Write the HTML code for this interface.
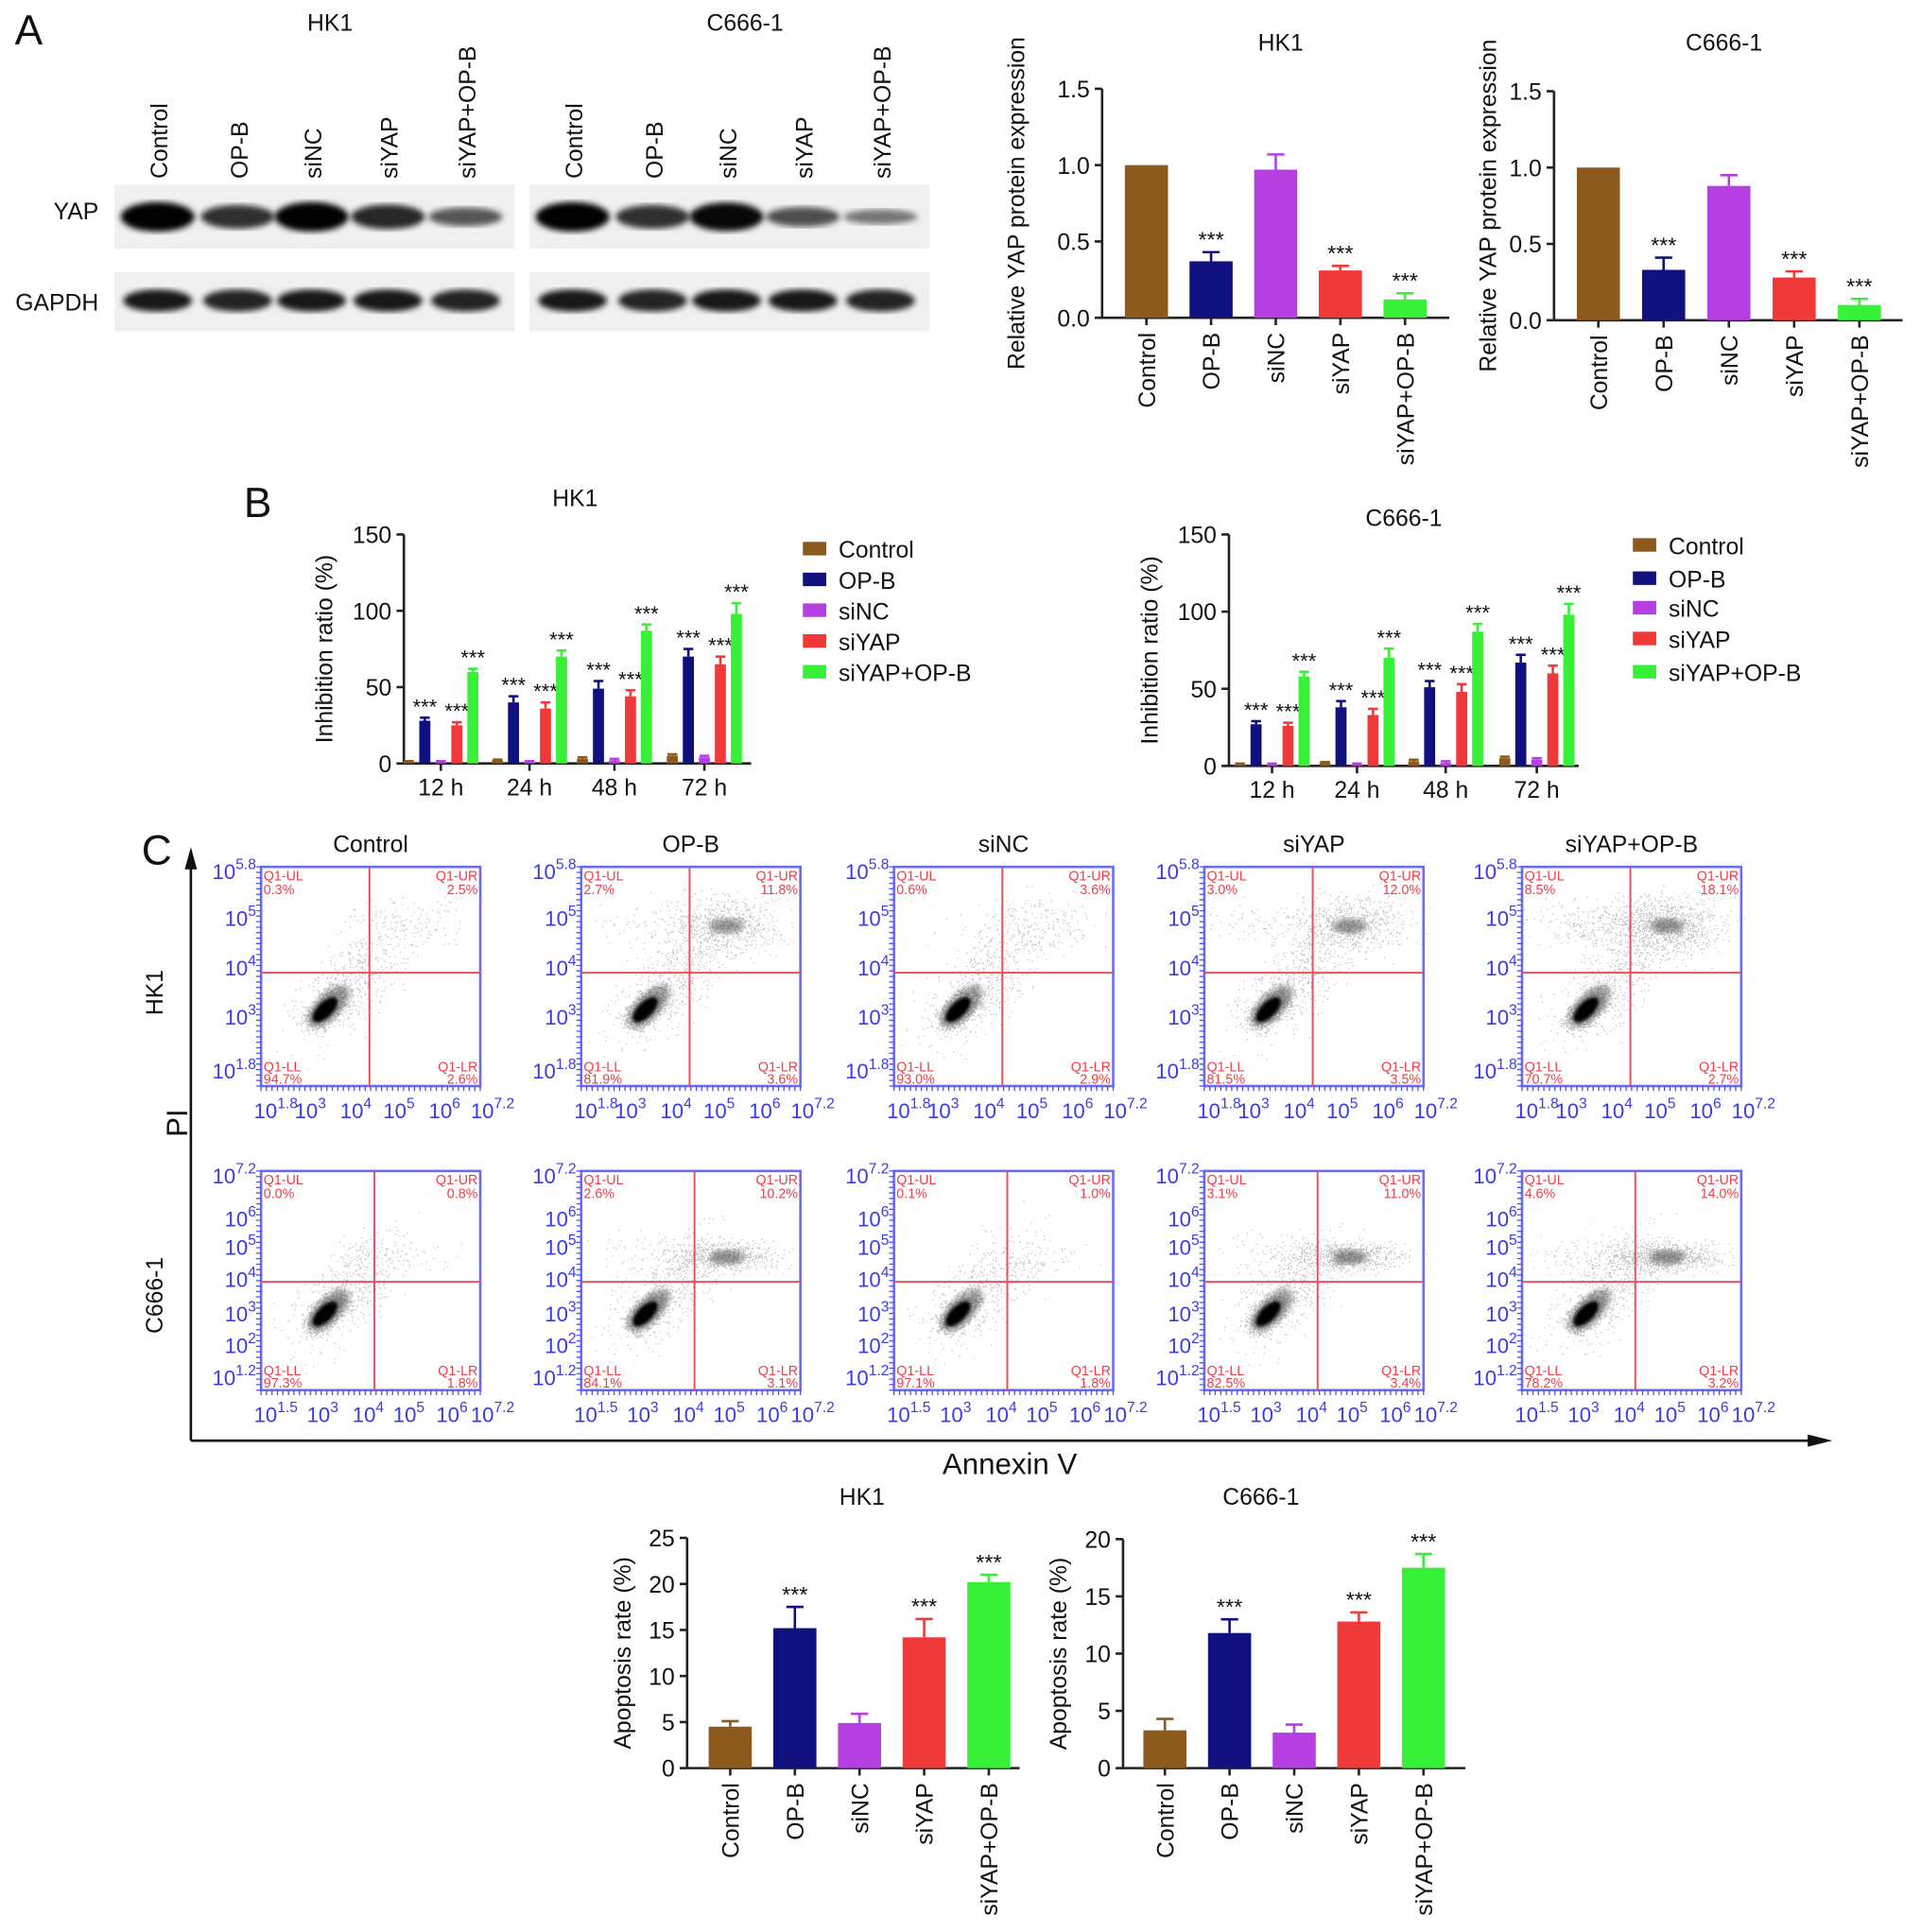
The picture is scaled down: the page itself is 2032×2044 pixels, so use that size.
<!DOCTYPE html>
<html><head><meta charset="utf-8">
<style>
html,body{margin:0;padding:0;background:#fff;}
svg{display:block;font-family:"Liberation Sans",Arial,sans-serif;}
</style></head>
<body>
<svg id="fig" xmlns="http://www.w3.org/2000/svg" width="2032" height="2044" viewBox="0 0 1560 1569">
<rect width="1560" height="1569" fill="#fff"/>
<defs>
<filter id="blur2"><feGaussianBlur stdDeviation="2.5"/></filter>
<filter id="blur1"><feGaussianBlur stdDeviation="1.2"/></filter>
</defs>
</svg>
<script>
// ---------- data ----------
const groups = ["Control","OP-B","siNC","siYAP","siYAP+OP-B"];
const colors = ["#8c5a1c","#10107e","#b53fe0","#f03a3a","#38f038"];
const yapHK1 = [1.0,0.37,0.97,0.31,0.12];
const yapHK1Err = [0,0.06,0.10,0.03,0.04];
const yapC666 = [1.0,0.33,0.88,0.28,0.10];
const yapC666Err = [0,0.08,0.07,0.04,0.04];
const yapTicks = [0,0.5,1.0,1.5];
const yapTickLabels = ["0.0","0.5","1.0","1.5"];
const timepoints = ["12 h","24 h","48 h","72 h"];
const inhHK1 = [[1,2,3,5],[28,40,49,70],[1,1,2,4],[25,36,44,65],[60,70,87,98]];
const inhHK1Err = [[0.5,0.5,1,1],[2,4,5,5],[0.5,0.5,1,1],[2,4,4,5],[2,4,4,7]];
const inhC666 = [[1,2,3,5],[27,38,51,67],[1,1,2,4],[26,33,48,60],[58,70,87,98]];
const inhC666Err = [[0.5,0.5,1,1],[2,4,4,5],[0.5,0.5,1,1],[2,4,5,5],[3,6,5,7]];
const inhTicks = [0,50,100,150];
const apoHK1 = [4.5,15.2,4.9,14.2,20.2];
const apoHK1Err = [0.6,2.3,1.0,2.0,0.8];
const apoC666 = [3.3,11.8,3.1,12.8,17.5];
const apoC666Err = [1.0,1.2,0.7,0.8,1.2];
const apoTicksHK1 = [0,5,10,15,20,25];
const apoTicksC666 = [0,5,10,15,20];
const flowHK1 = [["0.3%","2.5%","94.7%","2.6%"],["2.7%","11.8%","81.9%","3.6%"],["0.6%","3.6%","93.0%","2.9%"],["3.0%","12.0%","81.5%","3.5%"],["8.5%","18.1%","70.7%","2.7%"]];
const flowC666 = [["0.0%","0.8%","97.3%","1.8%"],["2.6%","10.2%","84.1%","3.1%"],["0.1%","1.0%","97.1%","1.8%"],["3.1%","11.0%","82.5%","3.4%"],["4.6%","14.0%","78.2%","3.2%"]];
const blotYAPHK1 = [1.0,0.7,1.0,0.75,0.45];
const blotYAPC666 = [1.0,0.7,0.95,0.5,0.25];
const blotGAPDH = [0.9,0.85,0.9,0.9,0.85];

// ---------- helpers ----------
const svg = document.getElementById('fig');
const NS = "http://www.w3.org/2000/svg";
function el(tag, attrs, parent, text){
  const e = document.createElementNS(NS, tag);
  for (const k in attrs) e.setAttribute(k, attrs[k]);
  if (text !== undefined) e.textContent = text;
  (parent||svg).appendChild(e);
  return e;
}
function txt(x,y,s,size,anchor,parent,extra){
  const a = Object.assign({x:x,y:y,'font-size':size,'text-anchor':anchor||'middle',fill:'#111'}, extra||{});
  return el('text',a,parent,s);
}
function rotTxt(x,y,s,size,anchor,parent){
  return el('text',{x:0,y:0,'font-size':size,'text-anchor':anchor||'middle',fill:'#111',transform:`translate(${x},${y}) rotate(-90)`},parent,s);
}
function g(name){
  const e = el('g',{});
  
  
  return e;
}

const la = txt(12,36,"A",34,'start');  
const lb = txt(198,420,"B",34,'start');  
const lc = txt(115,702,"C",34,'start');  

// ---------- Western blot ----------
function blot(x0, title, yapInt, name){
  const G = g(name);
  txt(x0+175,25,title,19,'middle',G);
  const lanes = [x0+35,x0+100,x0+160,x0+222,x0+285];
  groups.forEach((s,i)=>{ rotTxt(lanes[i]+8,145,s,19,'start',G); });
  el('rect',{x:x0,y:150,width:325,height:52,fill:'#f0f0f0'},G);
  el('rect',{x:x0,y:221,width:325,height:48,fill:'#f0f0f0'},G);
  yapInt.forEach((v,i)=>{
    const b = el('ellipse',{cx:lanes[i],cy:176,rx:30,ry:4+8*v,fill:'#000','fill-opacity':0.35+0.65*v,filter:'url(#blur2)'},G);
    
    
  });
  blotGAPDH.forEach((v,i)=>{
    const b = el('ellipse',{cx:lanes[i],cy:244,rx:28,ry:9,fill:'#000','fill-opacity':v,filter:'url(#blur2)'},G);
    
    
  });
}
blot(93,"HK1",blotYAPHK1,"western-blot-hk1");
blot(430,"C666-1",blotYAPC666,"western-blot-c666");
txt(80,178,"YAP",19,'end');
txt(80,252,"GAPDH",19,'end');

// ---------- bar chart generic ----------
function barChart(cfg){
  const G = g(cfg.name);
  const ys = v => cfg.y0 - (v/cfg.max)*(cfg.y0-cfg.yTop);
  txt(cfg.titleX,cfg.titleY,cfg.title,19,'middle',G);
  rotTxt(cfg.yLabelX,(cfg.y0+cfg.yTop)/2,cfg.yLabel,19,'middle',G);
  el('line',{x1:cfg.x0,y1:cfg.yTop,x2:cfg.x0,y2:cfg.y0,stroke:'#222','stroke-width':2},G);
  el('line',{x1:cfg.x0,y1:cfg.y0,x2:cfg.xEnd,y2:cfg.y0,stroke:'#222','stroke-width':2},G);
  cfg.ticks.forEach((t,i)=>{
    el('line',{x1:cfg.x0-6,y1:ys(t),x2:cfg.x0,y2:ys(t),stroke:'#222','stroke-width':2},G);
    txt(cfg.x0-10,ys(t)+7,cfg.tickLabels?cfg.tickLabels[i]:String(t),19,'end',G);
  });
  cfg.values.forEach((v,i)=>{
    const cx = cfg.x0 + cfg.first + i*cfg.step;
    const top = ys(v);
    const eTop = ys(v+cfg.err[i]);
    if (cfg.err[i]>0){
      el('line',{x1:cx,y1:top,x2:cx,y2:eTop,stroke:colors[i],'stroke-width':2},G);
      el('line',{x1:cx-7,y1:eTop,x2:cx+7,y2:eTop,stroke:colors[i],'stroke-width':2},G);
    }
    const r = el('rect',{x:cx-cfg.bw/2,y:top,width:cfg.bw,height:cfg.y0-top,fill:colors[i]},G);
    
    
    el('line',{x1:cx,y1:cfg.y0,x2:cx,y2:cfg.y0+6,stroke:'#222','stroke-width':2},G);
    rotTxt(cx+7,cfg.y0+12,groups[i],19,'end',G);
    if (cfg.stars[i]) txt(cx,eTop-4,"***",18,'middle',G);
  });
}
const st = [false,true,false,true,true];
barChart({name:'yap-chart-hk1',title:'HK1',titleX:1040,titleY:41,yLabel:'Relative YAP protein expression',yLabelX:832,
  x0:895,xEnd:1177,y0:258,yTop:72,max:1.5,ticks:yapTicks,tickLabels:yapTickLabels,values:yapHK1,err:yapHK1Err,first:36,step:52.5,bw:35,stars:st});
barChart({name:'yap-chart-c666',title:'C666-1',titleX:1400,titleY:41,yLabel:'Relative YAP protein expression',yLabelX:1215,
  x0:1262,xEnd:1545,y0:260,yTop:74,max:1.5,ticks:yapTicks,tickLabels:yapTickLabels,values:yapC666,err:yapC666Err,first:36,step:53,bw:35,stars:st});
barChart({name:'apoptosis-chart-hk1',title:'HK1',titleX:700,titleY:1222,yLabel:'Apoptosis rate (%)',yLabelX:512,
  x0:558,xEnd:828,y0:1436,yTop:1249,max:25,ticks:apoTicksHK1,values:apoHK1,err:apoHK1Err,first:35,step:52.5,bw:35,stars:st});
barChart({name:'apoptosis-chart-c666',title:'C666-1',titleX:1024,titleY:1222,yLabel:'Apoptosis rate (%)',yLabelX:866,
  x0:912,xEnd:1190,y0:1436,yTop:1250,max:20,ticks:apoTicksC666,values:apoC666,err:apoC666Err,first:34,step:52.5,bw:35,stars:st});

// ---------- grouped inhibition chart ----------
function groupChart(cfg){
  const G = g(cfg.name);
  const ys = v => cfg.y0 - (v/150)*(cfg.y0-cfg.yTop);
  txt(cfg.titleX,cfg.titleY,cfg.title,19,'middle',G);
  rotTxt(cfg.x0-58,(cfg.y0+cfg.yTop)/2,'Inhibition ratio (%)',19,'middle',G);
  el('line',{x1:cfg.x0,y1:cfg.yTop,x2:cfg.x0,y2:cfg.y0,stroke:'#222','stroke-width':2},G);
  el('line',{x1:cfg.x0,y1:cfg.y0,x2:cfg.xEnd,y2:cfg.y0,stroke:'#222','stroke-width':2},G);
  inhTicks.forEach(t=>{
    el('line',{x1:cfg.x0-6,y1:ys(t),x2:cfg.x0,y2:ys(t),stroke:'#222','stroke-width':2},G);
    txt(cfg.x0-10,ys(t)+7,String(t),19,'end',G);
  });
  timepoints.forEach((tp,j)=>{
    const c = cfg.centers[j];
    el('line',{x1:c,y1:cfg.y0,x2:c,y2:cfg.y0+6,stroke:'#222','stroke-width':2},G);
    txt(c,cfg.y0+26,tp,19,'middle',G);
    for(let i=0;i<5;i++){
      const cx = c + (i-2)*13;
      const v = cfg.values[i][j], e = cfg.err[i][j];
      const top = ys(v), eTop = ys(v+e);
      el('line',{x1:cx,y1:top,x2:cx,y2:eTop,stroke:colors[i],'stroke-width':2},G);
      el('line',{x1:cx-4,y1:eTop,x2:cx+4,y2:eTop,stroke:colors[i],'stroke-width':2},G);
      const r = el('rect',{x:cx-4.5,y:top,width:9,height:cfg.y0-top,fill:colors[i]},G);
      
      
      if (st[i]) txt(cx,eTop-3,"***",17,'middle',G);
    }
  });
  groups.forEach((s,i)=>{
    const ly = cfg.legY[i];
    const le = el('g',{},G);
    
    
    el('rect',{x:cfg.legX,y:ly-6,width:19,height:11,fill:colors[i]},le);
    txt(cfg.legX+29,ly+7,s,19,'start',le);
  });
}
groupChart({name:'inhibition-chart-hk1',title:'HK1',titleX:467,titleY:411,x0:328,xEnd:610,y0:620,yTop:434,
  centers:[358,430,499,572],values:inhHK1,err:inhHK1Err,legX:652,legY:[446,471,496,521,546]});
groupChart({name:'inhibition-chart-c666',title:'C666-1',titleX:1140,titleY:427,x0:998,xEnd:1282,y0:622,yTop:434,
  centers:[1033,1102,1174,1248],values:inhC666,err:inhC666Err,legX:1326,legY:[443,470,494,519,546]});

// ---------- flow cytometry ----------
let seed = 12345;
function rnd(){ seed = (seed*1103515245+12345) % 2147483648; return seed/2147483648; }
function gauss(){ return (rnd()+rnd()+rnd()+rnd()-2)/0.58; }
function sup(G,x,y,base,exp){
  const t = el('text',{x:x,y:y,'font-size':17,'text-anchor':'end',fill:'#3a3ae6'},G);
  el('tspan',{},t,base);
  el('tspan',{dy:-8,'font-size':12},t,exp);
  return t;
}
const colX = [212,472,726,978,1236];
groups.forEach((s,i)=>{ const t=txt(colX[i]+89,692,s,19,'middle');   });
function flowPlot(x,y,h,vals,row,idx){
  const G = g('flow-plot-'+row+'-'+idx);
  const w = 178;
  const qx = x + (row==='hk1'?88:92), qy = y + (row==='hk1'?86:90);
  const ur = parseFloat(vals[1]), ul = parseFloat(vals[0]);
  const nMain = 900, nUR = Math.round(ur*55), nUL = Math.round(ul*30);
  let d = "";
  const bx = x+52, by = y+h-62;
  for(let k=0;k<nMain;k++){ const a=gauss()*9, b=gauss()*5; d+=`M${(bx+a*0.7+b*0.7).toFixed(1)},${(by-a*0.7+b*0.7).toFixed(1)}h1.2`; }
  for(let k=0;k<500;k++){ const a=gauss()*30, b=gauss()*14; d+=`M${(bx+20+a*0.7+b*0.7).toFixed(1)},${(by-20-a*0.7+b*0.7).toFixed(1)}h1`; }
  const ux = x+118, uy = y+(row==='hk1'?48:70);
  for(let k=0;k<nUR;k++){ d+=`M${(ux+gauss()*22).toFixed(1)},${(uy+gauss()*(row==='hk1'?12:6)).toFixed(1)}h1`; }
  for(let k=0;k<nUL;k++){ d+=`M${(x+60+gauss()*25).toFixed(1)},${(uy+gauss()*10).toFixed(1)}h1`; }
  el('path',{d:d,stroke:'#555','stroke-width':1,'stroke-opacity':0.35,fill:'none'},G);
  el('ellipse',{cx:bx,cy:by,rx:13,ry:6,fill:'#000',transform:`rotate(-45 ${bx} ${by})`,filter:'url(#blur1)'},G);
  el('ellipse',{cx:bx+3,cy:by-3,rx:22,ry:10,fill:'#000','fill-opacity':0.35,transform:`rotate(-45 ${bx+3} ${by-3})`,filter:'url(#blur2)'},G);
  if (nUR>300) el('ellipse',{cx:ux,cy:uy,rx:14,ry:6,fill:'#333','fill-opacity':0.5,filter:'url(#blur2)'},G);
  el('rect',{x:x,y:y,width:w,height:h,fill:'none',stroke:'#6b6bf0','stroke-width':2},G);
  let tk="";
  for(let k=0;k<=40;k++){ const yy=y+k*h/40; tk+=`M${x-4},${yy.toFixed(1)}h4`; }
  for(let k=0;k<=40;k++){ const xx=x+k*w/40; tk+=`M${xx.toFixed(1)},${y+h}v4`; }
  el('path',{d:tk,stroke:'#5050ee','stroke-width':1},G);
  el('line',{x1:qx,y1:y,x2:qx,y2:y+h,stroke:'#e8505a','stroke-width':1.5},G);
  el('line',{x1:x,y1:qy,x2:x+w,y2:qy,stroke:'#e8505a','stroke-width':1.5},G);
  const rc = {fill:'#e8404a','font-size':11};
  el('text',Object.assign({x:x+2,y:y+11},rc),G,'Q1-UL');
  el('text',Object.assign({x:x+2,y:y+22},rc),G,vals[0]);
  el('text',Object.assign({x:x+w-2,y:y+11,'text-anchor':'end'},rc),G,'Q1-UR');
  el('text',Object.assign({x:x+w-2,y:y+22,'text-anchor':'end'},rc),G,vals[1]);
  el('text',Object.assign({x:x+2,y:y+h-12},rc),G,'Q1-LL');
  el('text',Object.assign({x:x+2,y:y+h-2},rc),G,vals[2]);
  el('text',Object.assign({x:x+w-2,y:y+h-12,'text-anchor':'end'},rc),G,'Q1-LR');
  el('text',Object.assign({x:x+w-2,y:y+h-2,'text-anchor':'end'},rc),G,vals[3]);
  if (row==='hk1'){
    sup(G,x-4,y+10,'10','5.8'); sup(G,x-4,y+48,'10','5'); sup(G,x-4,y+88,'10','4'); sup(G,x-4,y+128,'10','3'); sup(G,x-4,y+h-6,'10','1.8');
    const xl=[['1.8',0],['3',28],['4',65],['5',100],['6',137],['7.2',176]];
    xl.forEach(p=>{ const t=sup(G,x+p[1]+12,y+h+26,'10',p[0]); t.setAttribute('text-anchor','middle'); });
  } else {
    const yl=[['7.2',10],['6',45],['5',68],['4',94],['3',122],['2',148],['1.2',h-4]];
    yl.forEach(p=>sup(G,x-4,y+p[1],'10',p[0]));
    const xl=[['1.5',0],['3',38],['4',75],['5',108],['6',143],['7.2',176]];
    xl.forEach(p=>{ const t=sup(G,x+p[1]+12,y+h+26,'10',p[0]); t.setAttribute('text-anchor','middle'); });
  }
}
colX.forEach((x,i)=>flowPlot(x,704,178,flowHK1[i],'hk1',i));
colX.forEach((x,i)=>flowPlot(x,951,178,flowC666[i],'c666',i));
rotTxt(132,806,'HK1',19,'middle');
rotTxt(132,1052,'C666-1',19,'middle');
const ax = g('flow-axes');
el('line',{x1:155,y1:1170,x2:155,y2:700,stroke:'#111','stroke-width':2},ax);
el('polygon',{points:'150,706 155,688 160,706',fill:'#111'},ax);
el('line',{x1:155,y1:1170,x2:1475,y2:1170,stroke:'#111','stroke-width':2},ax);
el('polygon',{points:'1468,1165 1488,1170 1468,1175',fill:'#111'},ax);
const pi = rotTxt(152,912,'PI',24,'middle',ax);
 
const an = txt(820,1197,'Annexin V',24,'middle',ax);
 
</script>
</body></html>
